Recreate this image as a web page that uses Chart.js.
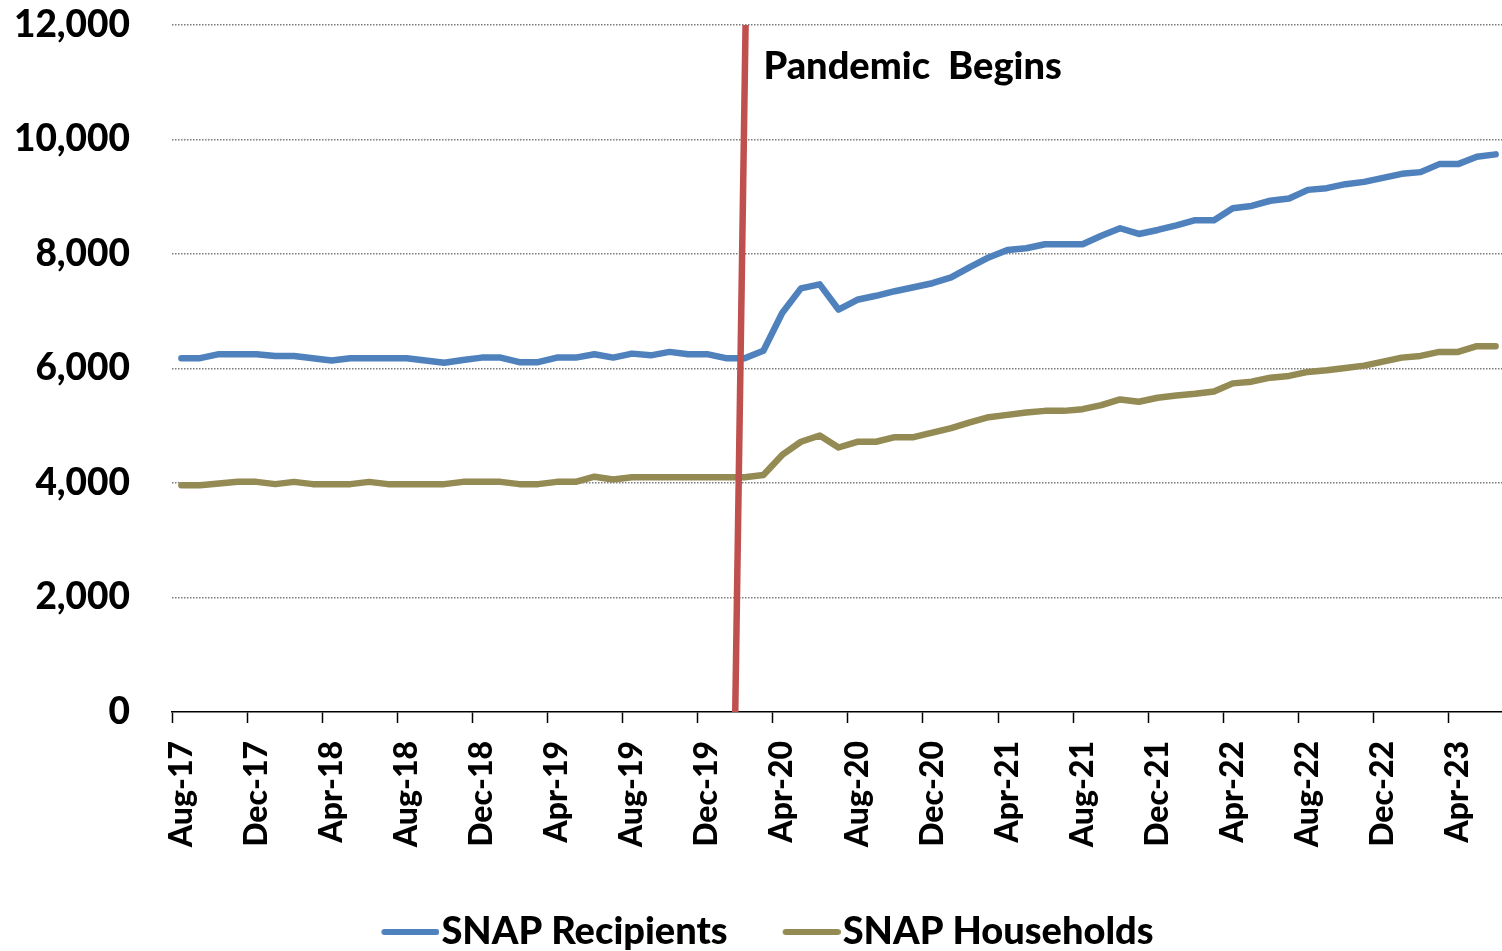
<!DOCTYPE html>
<html>
<head>
<meta charset="utf-8">
<title>SNAP Recipients and Households</title>
<script src="https://cdn.jsdelivr.net/npm/chart.js@4"></script>
<style>
  html, body { margin: 0; padding: 0; background: #fff; overflow: hidden; }
  #wrap { width: 1502px; height: 951px; overflow: hidden; }
</style>
</head>
<body>
<div id="wrap"><canvas id="snap-chart" width="1505" height="961"></canvas></div>
<script>
const months = [
  'Aug-17','Sep-17','Oct-17','Nov-17','Dec-17','Jan-18','Feb-18','Mar-18','Apr-18','May-18',
  'Jun-18','Jul-18','Aug-18','Sep-18','Oct-18','Nov-18','Dec-18','Jan-19','Feb-19','Mar-19',
  'Apr-19','May-19','Jun-19','Jul-19','Aug-19','Sep-19','Oct-19','Nov-19','Dec-19','Jan-20',
  'Feb-20','Mar-20','Apr-20','May-20','Jun-20','Jul-20','Aug-20','Sep-20','Oct-20','Nov-20',
  'Dec-20','Jan-21','Feb-21','Mar-21','Apr-21','May-21','Jun-21','Jul-21','Aug-21','Sep-21',
  'Oct-21','Nov-21','Dec-21','Jan-22','Feb-22','Mar-22','Apr-22','May-22','Jun-22','Jul-22',
  'Aug-22','Sep-22','Oct-22','Nov-22','Dec-22','Jan-23','Feb-23','Mar-23','Apr-23','May-23',
  'Jun-23'
];

// thousands
const recipients = [
  6180, 6180, 6250, 6250, 6250, 6220, 6220, 6180, 6140, 6180,
  6180, 6180, 6180, 6140, 6100, 6150, 6190, 6190, 6110, 6110,
  6190, 6190, 6250, 6190, 6260, 6230, 6290, 6250, 6250, 6180,
  6180, 6310, 6970, 7400, 7470, 7030, 7200, 7270, 7350, 7420,
  7490, 7590, 7770, 7940, 8070, 8100, 8170, 8170, 8170, 8320,
  8450, 8350, 8420, 8500, 8590, 8590, 8800, 8840, 8930, 8970,
  9120, 9150, 9220, 9260, 9330, 9400, 9430, 9570, 9570, 9700,
  9740
];

const households = [
  3960, 3960, 3990, 4020, 4020, 3980, 4020, 3980, 3980, 3980,
  4020, 3980, 3980, 3980, 3980, 4020, 4020, 4020, 3980, 3980,
  4020, 4020, 4110, 4060, 4100, 4100, 4100, 4100, 4100, 4100,
  4100, 4140, 4490, 4720, 4830, 4620, 4720, 4720, 4800, 4800,
  4880, 4960, 5060, 5150, 5190, 5230, 5260, 5260, 5290, 5360,
  5460, 5420, 5490, 5530, 5560, 5600, 5740, 5770, 5840, 5870,
  5940, 5970, 6010, 6050, 6120, 6190, 6220, 6290, 6290, 6390,
  6390
];

const yTicks = [0, 2000, 4000, 6000, 8000, 10000, 12000];

// pandemic marker, in category index / value units
const pandemicFrom = [29.5, 0];
const pandemicTo = [30.05, 12000];
const pandemicLabel = 'Pandemic  Begins';

const blue = '#4F81BD';
const olive = '#948A54';
const red = '#C0504D';
const FONT = 'Lato, "DejaVu Sans", sans-serif';
const WEIGHT = '900';

// legend swatch: thick line on the right half of the image so the
// label text starts right after it
function swatch(color) {
  const c = document.createElement('canvas');
  c.width = 105; c.height = 8;
  const g = c.getContext('2d');
  g.strokeStyle = color;
  g.lineWidth = 6;
  g.lineCap = 'round';
  g.beginPath();
  g.moveTo(50, 4);
  g.lineTo(102, 4);
  g.stroke();
  return c;
}

const markerPlugin = {
  id: 'pandemicMarker',
  afterDatasetsDraw(chart) {
    const {ctx, scales: {x, y}} = chart;
    ctx.save();
    ctx.strokeStyle = red;
    ctx.lineWidth = 6.5;
    ctx.beginPath();
    ctx.moveTo(x.getPixelForValue(pandemicFrom[0]), y.getPixelForValue(pandemicFrom[1]));
    ctx.lineTo(x.getPixelForValue(pandemicTo[0]), y.getPixelForValue(pandemicTo[1]));
    ctx.stroke();
    ctx.fillStyle = '#000';
    ctx.font = WEIGHT + ' 38px ' + FONT;
    ctx.textBaseline = 'alphabetic';
    ctx.fillText(pandemicLabel, x.getPixelForValue(31), y.getPixelForValue(11050));
    ctx.restore();
  }
};

new Chart(document.getElementById('snap-chart'), {
  type: 'line',
  data: {
    labels: months,
    datasets: [{
      label: 'SNAP Recipients',
      data: recipients,
      borderColor: blue,
      backgroundColor: blue,
      borderWidth: 6.5,
      borderCapStyle: 'round',
      borderJoinStyle: 'round',
      pointRadius: 0,
      pointStyle: swatch(blue),
      tension: 0
    }, {
      label: 'SNAP Households',
      data: households,
      borderColor: olive,
      backgroundColor: olive,
      borderWidth: 6.5,
      borderCapStyle: 'round',
      borderJoinStyle: 'round',
      pointRadius: 0,
      pointStyle: swatch(olive),
      tension: 0
    }]
  },
  options: {
    responsive: false,
    animation: false,
    layout: { padding: { left: 0, top: 25, right: 0, bottom: 0 } },
    plugins: {
      tooltip: { enabled: false },
      legend: {
        position: 'bottom',
        labels: {
          usePointStyle: true,
          pointStyleWidth: 71,
          padding: 25,
          color: '#000',
          font: { family: FONT, size: 38, weight: WEIGHT }
        }
      }
    },
    scales: {
      x: {
        offset: true,
        grid: {
          offset: true,
          drawOnChartArea: false,
          drawTicks: true,
          tickLength: 11,
          tickWidth: 1.5,
          tickColor: c => (c.index % 4 === 0 ? '#000' : 'rgba(0,0,0,0)')
        },
        border: { color: '#000', width: 1.5 },
        ticks: {
          autoSkip: false,
          maxRotation: 90,
          minRotation: 90,
          padding: 18,
          color: '#000',
          font: { family: FONT, size: 32, weight: WEIGHT },
          callback: function (val, i) { return i % 4 === 0 ? this.getLabelForValue(val) : ''; }
        },
        afterFit: s => { s.height = 176; s.paddingLeft = 0; s.paddingRight = 0; }
      },
      y: {
        min: 0,
        max: 12000,
        afterBuildTicks: s => { s.ticks = yTicks.map(v => ({ value: v })); },
        grid: {
          drawTicks: false,
          lineWidth: 1.5,
          color: c => (c.tick && c.tick.value === 0 ? 'rgba(0,0,0,0)' : '#7a7a7a')
        },
        border: { display: false, dash: [1.5, 1.5] },
        ticks: {
          padding: 42,
          color: '#000',
          font: { family: FONT, size: 37, weight: WEIGHT },
          callback: v => v.toLocaleString('en-US')
        },
        afterFit: s => { s.width = 172; s.paddingTop = 0; s.paddingBottom = 0; }
      }
    }
  },
  plugins: [markerPlugin]
});
</script>
</body>
</html>
